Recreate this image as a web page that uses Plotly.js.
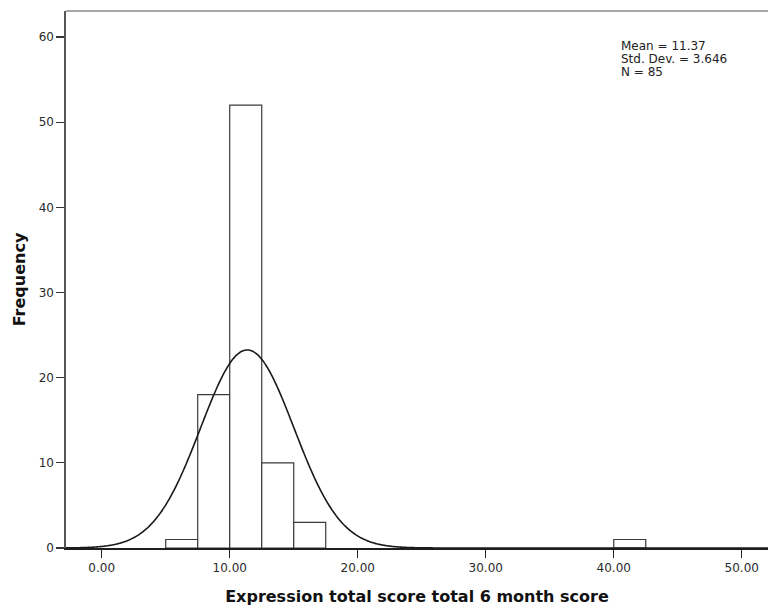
<!DOCTYPE html>
<html>
<head>
<meta charset="utf-8">
<script src="https://cdn.plot.ly/plotly-3.0.1.min.js"></script>
<style>
  html, body { margin: 0; padding: 0; background: #ffffff; }
  #chart { width: 768px; height: 612px; }
</style>
</head>
<body>
<div id="chart"></div>
<script>
// Histogram bins: lower edges and counts (bin width 2.5)
const binStarts = [5, 7.5, 10, 12.5, 15, 40];
const binCounts = [1, 18, 52, 10, 3, 1];
const binWidth = 2.5;

// Summary statistics shown in the corner box
const statMean = 11.37;
const statSD = 3.646;
const statN = 85;
const statLabels = ['Mean = 11.37', 'Std. Dev. = 3.646', 'N = 85'];

// Axis ticks
const xTicks = [0, 10, 20, 30, 40, 50];
const yTicks = [0, 10, 20, 30, 40, 50, 60];

// Fitted normal curve scaled to frequency (N * bin width * density)
const curveX = [];
const curveY = [];
for (let i = 0; i <= 600; i++) {
  const x = -3 + i * (56 / 600);
  const z = (x - statMean) / statSD;
  curveX.push(x);
  curveY.push(statN * binWidth * Math.exp(-0.5 * z * z) / (statSD * Math.sqrt(2 * Math.PI)));
}

const bars = {
  type: 'bar',
  x: binStarts,
  y: binCounts,
  width: binWidth,
  offset: 0,
  marker: { color: '#ffffff', line: { color: '#3a3a3a', width: 1.2 } },
  hoverinfo: 'x+y',
  showlegend: false
};

const curve = {
  type: 'scatter',
  mode: 'lines',
  x: curveX,
  y: curveY,
  line: { color: '#1a1a1a', width: 1.6, shape: 'spline' },
  hoverinfo: 'skip',
  showlegend: false
};

const tickFont = { family: 'DejaVu Sans', size: 12, color: '#2b2b2b' };
const titleFont = { family: 'DejaVu Sans', size: 16, color: '#111111', weight: 'bold' };

const statY = [0.934, 0.910, 0.886];
const annotations = statLabels.map((t, i) => ({
  xref: 'paper', yref: 'paper',
  x: 0.7877, y: statY[i],
  xanchor: 'left', yanchor: 'middle',
  text: t, showarrow: false,
  font: { family: 'DejaVu Sans', size: 12, color: '#222222' }
}));

const layout = {
  width: 768,
  height: 612,
  margin: { l: 66, r: 0, t: 11, b: 64 },
  paper_bgcolor: '#ffffff',
  plot_bgcolor: '#ffffff',
  bargap: 0,
  xaxis: {
    range: [-2.79, 52.05],
    tickvals: xTicks,
    tickformat: '.2f',
    ticks: 'outside',
    ticklen: 8,
    tickwidth: 1.3,
    tickcolor: '#222222',
    showgrid: false,
    zeroline: false,
    showline: true,
    linecolor: '#1e1e1e',
    linewidth: 1.6,
    tickfont: tickFont,
    title: { text: 'Expression total score total 6 month score', font: titleFont, standoff: 17 },
    automargin: false
  },
  yaxis: {
    range: [0, 63.05],
    tickvals: yTicks,
    ticks: 'outside',
    ticklen: 8,
    tickwidth: 1.3,
    tickcolor: '#333333',
    showgrid: false,
    zeroline: false,
    showline: true,
    linecolor: '#555555',
    linewidth: 1.6,
    tickfont: tickFont,
    title: { text: 'Frequency', font: titleFont, standoff: 9 },
    automargin: false
  },
  shapes: [
    { type: 'line', xref: 'paper', yref: 'paper', x0: 0, x1: 1, y0: 1, y1: 1,
      line: { color: '#8a8a8a', width: 1.6 } }
  ],
  annotations: annotations
};

Plotly.newPlot('chart', [bars, curve], layout, { displayModeBar: false, staticPlot: true });
</script>
</body>
</html>
